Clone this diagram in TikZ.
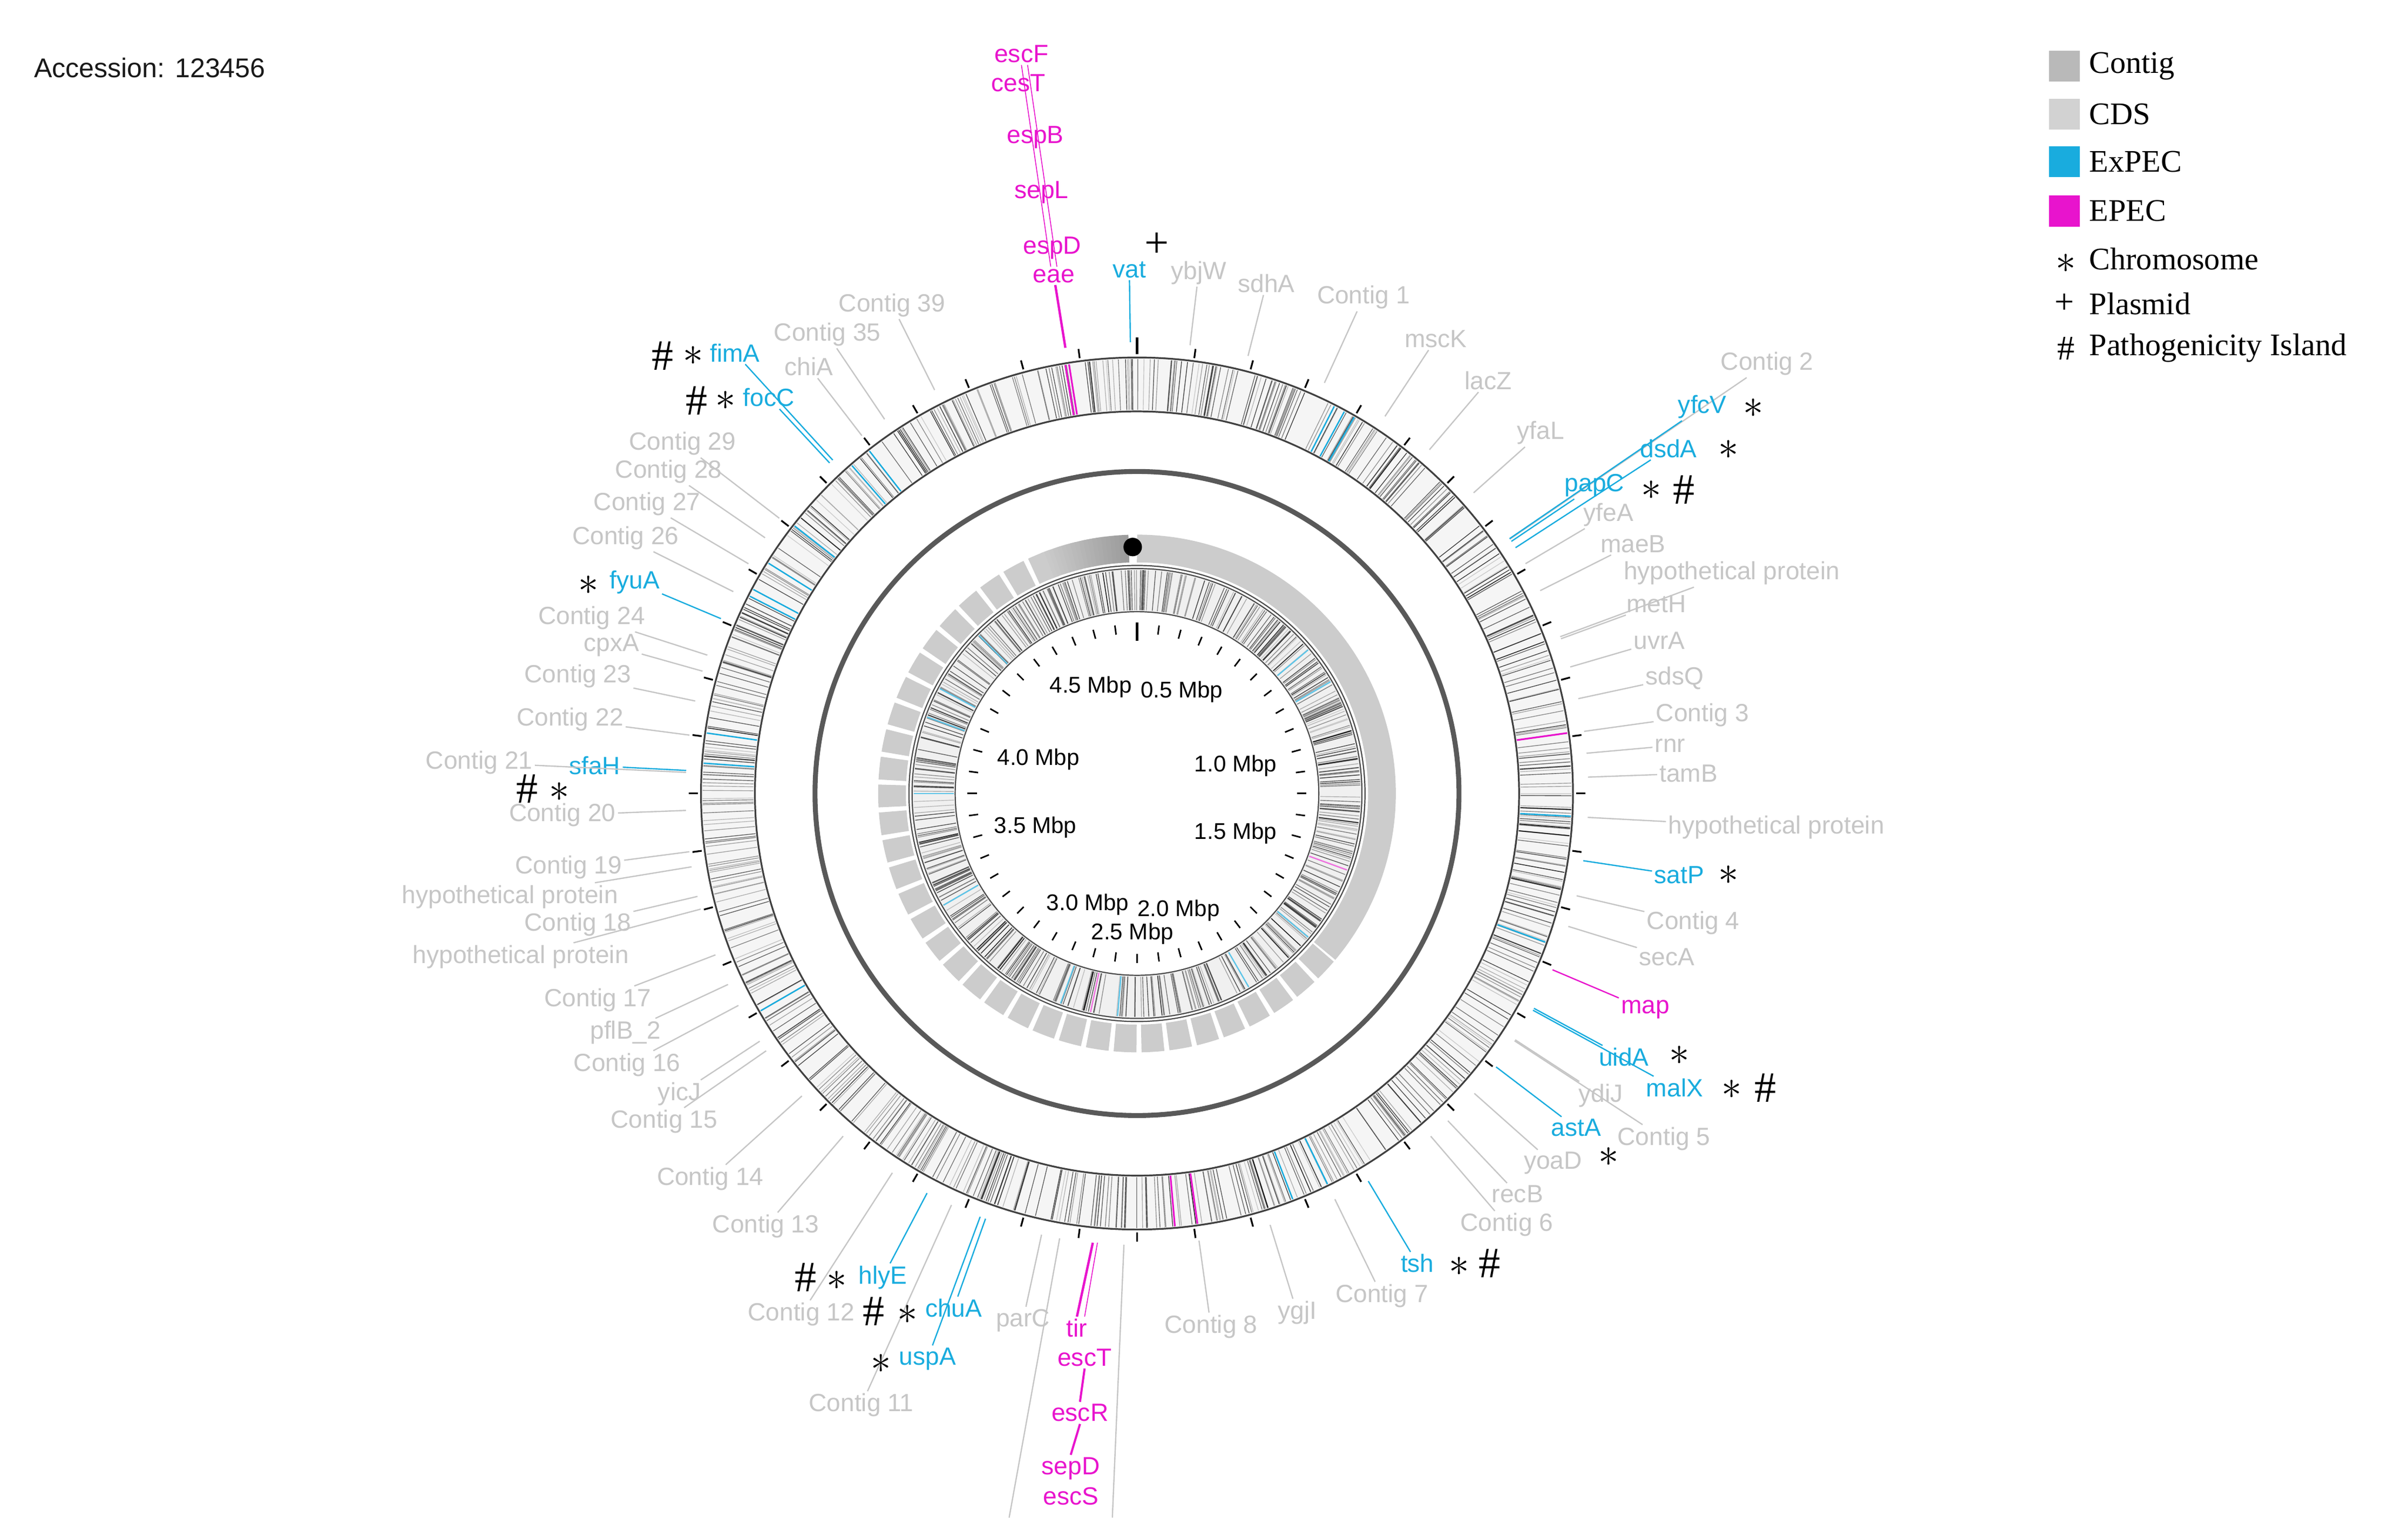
\documentclass[tikz,border=0pt]{standalone}
\usepackage{fontspec}
\setmainfont{Liberation Sans}
\newfontfamily\serifit{Liberation Serif}
\usetikzlibrary{calc}
\definecolor{cy}{RGB}{25,172,222}
\definecolor{mg}{RGB}{232,20,205}
\colorlet{lg}{gray!45}
\newcommand\bigast{\scalebox{1.5}{$\ast$}}
\tikzset{
 lbl/.style={inner sep=2pt,font=\fontsize{23}{25}\selectfont},
 sym/.style={inner sep=0pt,font=\serifit\fontsize{40}{42}\selectfont,text=black},
 leg/.style={anchor=west,inner sep=0pt,font=\serifit\fontsize{29}{31}\selectfont},
 ringline/.style={gray!50!black,line width=1.6pt},
}
\begin{document}
\begin{tikzpicture}[x=0.05cm,y=-0.05cm]
\useasboundingbox (0,0) rectangle (1563,998);
\coordinate (C) at (738,515);
\node[anchor=west,inner sep=0pt,text=gray!20!black,font=\fontsize{25}{27}\selectfont] (acc) at (22,44) {Accession: 123456};
% ---- rings ----
\begin{scope}[shift={(738,515)}]
 \fill[gray!8,even odd rule] (0,0) circle (283) (0,0) circle (248);
 \pgfmathsetseed{11}
 \foreach \i in {1,...,700}{
  \pgfmathsetmacro\a{rnd*360}\pgfmathsetmacro\o{0.15+0.6*rnd}
  \draw[black,opacity=\o,line width=0.7pt] (\a:249) -- (\a:282);}
 \foreach \a in {-63,-61.5,-60,3,20,64,69,150,207,212,229,-128,-142,-152,-172,-176}{
  \draw[cy,line width=1.3pt] (\a:249) -- (\a:282);}
 \foreach \a in {-99.5,-99,85,82,-8}{\draw[mg,line width=1.6pt] (\a:249) -- (\a:282);}
 \draw[ringline] (0,0) circle (283) (0,0) circle (248);
 \foreach \a in {0,7.5,...,359}{\draw[black,line width=1.6pt] (\a:285) -- (\a:291);}
 \draw[black,line width=2.8pt] (-90:285) -- (-90:296);
 % middle circle
 \draw[gray!70!black,line width=0.16cm] (0,0) circle (209);
 % scalloped band
 \draw[gray!40,line width=0.9cm] (-90:159) arc[start angle=-90,end angle=40,radius=159];
 \foreach \a in {40,46.2,...,262}{
  \draw[gray!40,line width=0.9cm] (\a+0.5:159) arc[start angle=\a+0.5,end angle=\a+5.6,radius=159];}
 \foreach \k in {0,...,19}{
  \pgfmathsetmacro\s{-112+\k}\pgfmathsetmacro\o{\k*5}
  \draw[black!\o!gray!40,line width=0.9cm] (\s:159) arc[start angle=\s,end angle=\s+1.1,radius=159];}
 \fill[black] (-91:160) circle (6);
 \draw[gray!60!black,line width=1.1pt] (0,0) circle (148);
 % inner hatched ring
 \fill[gray!12,even odd rule] (0,0) circle (146) (0,0) circle (118);
 \foreach \i in {1,...,550}{
  \pgfmathsetmacro\a{rnd*360}\pgfmathsetmacro\o{0.15+0.55*rnd}
  \draw[black,opacity=\o,line width=0.7pt] (\a:119) -- (\a:145);}
 \foreach \a in {-135,-160,-180,-152,-40,-30,110,95,60,40,-210}{\draw[cy!70,line width=1.2pt] (\a:119) -- (\a:145);}
 \foreach \a in {20,102}{\draw[mg!60,line width=1.2pt] (\a:119) -- (\a:145);}
 \draw[gray!60!black,line width=1.1pt] (0,0) circle (146) (0,0) circle (118);
 \foreach \a in {0,7.5,...,359}{\draw[black,line width=1.4pt] (\a:104) -- (\a:110);}
 \draw[black,line width=2.4pt] (-90:99) -- (-90:111);
\end{scope}
% scale labels
\foreach \x/\y/\t in {708/446/4.5,767/449/0.5,674/493/4.0,802/497/1.0,672/537/3.5,802/541/1.5,706/587/3.0,765/591/2.0,735/606/2.5}{
 \node[inner sep=0pt,font=\fontsize{21}{23}\selectfont] (m\t) at (\x,\y) {\t\ Mbp};}
% ---- gene / contig labels ----
\foreach \x/\y/\t/\c [count=\k] in {
 733/175/vat/cy, 778/177/ybjW/lg, 822/184/sdhA/lg, 885/193/Contig 1/lg, 932/220/mscK/lg,
 966/247/lacZ/lg, 1000/281/yfaL/lg, 1147/236/Contig 2/lg, 1105/264/yfcV/cy, 1083/291/dsdA/cy,
 1035/315/papC/cy, 1044/334/yfeA/lg, 1060/353/maeB/lg, 1124/372/hypothetical protein/lg,
 1075/392/metH/lg, 1077/416/uvrA/lg, 1087/440/sdsQ/lg, 1105/464/Contig 3/lg, 1084/484/rnr/lg,
 1096/502/tamB/lg, 1153/537/hypothetical protein/lg, 1090/568/satP/cy, 1099/599/Contig 4/lg,
 1082/621/secA/lg, 1068/655/map/mg, 1054/686/uidA/cy, 1087/706/malX/cy, 1039/711/ydiJ/lg,
 1023/732/astA/cy, 1080/739/Contig 5/lg, 1008/755/yoaD/lg, 985/775/recB/lg, 978/795/Contig 6/lg,
 920/820/tsh/cy, 897/841/Contig 7/lg, 842/852/ygjI/lg, 786/861/Contig 8/lg, 664/857/parC/lg,
 602/882/uspA/cy, 559/912/Contig 11/lg, 619/849/chuA/cy, 520/853/Contig 12/lg, 573/829/hlyE/cy,
 497/796/Contig 13/lg, 461/765/Contig 14/lg, 431/728/Contig 15/lg, 441/710/yicJ/lg,
 407/691/Contig 16/lg, 406/670/pflB\_2/lg, 388/649/Contig 17/lg, 338/621/hypothetical protein/lg,
 375/600/Contig 18/lg, 331/582/hypothetical protein/lg, 369/563/Contig 19/lg, 365/529/Contig 20/lg,
 386/497/sfaH/cy, 311/495/Contig 21/lg, 370/467/Contig 22/lg, 375/439/Contig 23/lg, 397/419/cpxA/lg,
 384/401/Contig 24/lg, 412/378/fyuA/cy, 406/349/Contig 26/lg, 420/327/Contig 27/lg,
 434/306/Contig 28/lg, 443/288/Contig 29/lg, 499/258/focC/cy, 525/238/chiA/lg, 477/229/fimA/cy,
 537/217/Contig 35/lg, 579/198/Contig 39/lg}{
 \node[lbl,text=\c] (g\k) at (\x,\y) {\t};
 \draw[\c,line width=1.2pt] ($(C)!14.65cm!(g\k)$) -- (g\k);
}
% ---- EPEC clusters ----
\foreach \x/\y/\t [count=\k] in {663/35/escF,661/54/cesT,672/89/espB,676/125/sepL,683/161/espD,684/179/eae}{
 \node[lbl,text=mg] (t\k) at (\x,\y) {\t};}
\draw[mg,line width=2.2pt] ($(C)!14.65cm!(t6)$) -- (t6);
\draw[mg,line width=0.8pt] (t6.north) ++(-2,0) -- (t1.south);
\draw[mg,line width=0.8pt] (t6.north) ++(2,0) -- ($(t1.south)+(4,0)$);
\foreach \x/\y/\t [count=\k] in {699/862/tir,704/881/escT,701/917/escR,695/953/sepD,695/971/escS}{
 \node[lbl,text=mg] (b\k) at (\x,\y) {\t};}
\coordinate (bt) at ($(C)!14.65cm!(708,820)$);
\draw[mg,line width=2.2pt] (bt) -- (b1.north);
\draw[mg,line width=0.8pt] ($(bt)+(3,0)$) -- ($(b1.north)+(5,0)$);
\draw[mg,line width=2pt] (b2.south) -- (b3.north) (b3.south) -- (b4.north);
\coordinate (lb1) at ($(C)!14.65cm!(678,860)$);
\coordinate (lb1e) at (655,985);
\draw[lg,line width=1.2pt] (lb1) -- (lb1e);
\coordinate (lb2) at ($(C)!14.65cm!(728,860)$);
\coordinate (lb2e) at (722,985);
\draw[lg,line width=1.2pt] (lb2) -- (lb2e);
% ---- symbols ----
\foreach \x/\y/\s [count=\k] in {751/159/+,430/231/\#,450/231/\bigast,452/260/\#,471/260/\bigast,
 1138/265/\bigast,1122/292/\bigast,1072/318/\bigast,1093/318/\#,382/380/\bigast,342/512/\#,363/514/\bigast,
 1122/568/\bigast,1090/685/\bigast,1124/707/\bigast,1146/706/\#,1044/751/\bigast,947/822/\bigast,967/820/\#,
 523/829/\#,543/831/\bigast,567/851/\#,589/853/\bigast,572/885/\bigast}{
 \node[sym] (s\k) at (\x,\y) {\s};}
% ---- legend ----
\foreach \y/\c/\t [count=\k] in {43/gray!55/Contig,74/gray!35/CDS,105/cy/ExPEC,137/mg/EPEC}{
 \fill[\c] (1330,\y-10) rectangle (1350,\y+10);
 \node[leg] (l\k) at (1356,\y) {\t};}
\node[sym] (l5s) at (1341,171) {\bigast};
\node[leg] (l5) at (1356,168) {Chromosome};
\node[sym,font=\serifit\fontsize{32}{34}\selectfont] (l6s) at (1340,197) {+};
\node[leg] (l6) at (1356,197) {Plasmid};
\node[sym,font=\serifit\fontsize{32}{34}\selectfont] (l7s) at (1341,226) {\#};
\node[leg] (l7) at (1356,226) {Pathogenicity Island};
\end{tikzpicture}
\end{document}
